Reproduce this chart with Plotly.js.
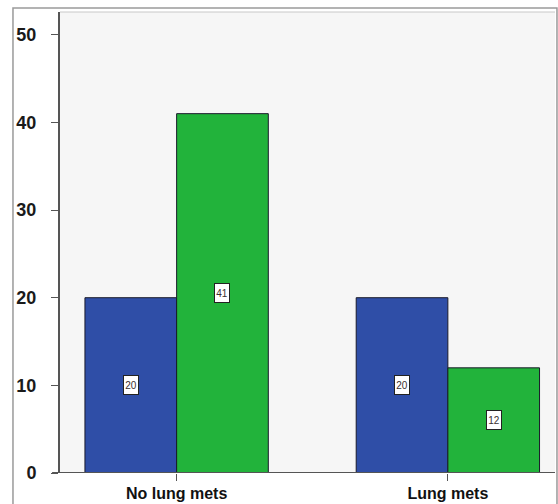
<!DOCTYPE html>
<html>
<head>
<meta charset="utf-8">
<script src="https://cdn.plot.ly/plotly-3.0.1.min.js"></script>
<style>html,body{margin:0;padding:0;background:#fff;}#chart{width:558px;height:504px;}</style>
</head>
<body>
<div id="chart"></div>
<script>
const categories = ["No lung mets", "Lung mets"];
const seriesNames = ["Group A", "Group B"];
const seriesA = [20, 20];
const seriesB = [41, 12];
const yTicks = [0, 10, 20, 30, 40, 50];

const colors = ["#2F4EA7", "#22B33B"];
const bargap = 0.324;
const barW = (1 - bargap) / 2;
const xIdx = categories.map((c, i) => i);

const traces = [seriesA, seriesB].map((vals, s) => ({
  type: "bar",
  name: seriesNames[s],
  x: xIdx,
  y: vals,
  marker: {color: colors[s], line: {color: "#1a1a2a", width: 1}},
  hoverinfo: "none"
}));

const annotations = [];
[seriesA, seriesB].forEach((vals, s) => {
  vals.forEach((v, i) => {
    annotations.push({
      x: i + (s === 0 ? -barW / 2 : barW / 2),
      y: v / 2,
      xref: "x", yref: "y",
      text: String(v),
      showarrow: false,
      font: {family: "Liberation Sans Narrow, Liberation Sans, Arial, sans-serif", size: 10, color: "#3a3030"},
      bgcolor: "#ffffff",
      bordercolor: "#222",
      borderwidth: 1,
      borderpad: 1,
      width: 12,
      height: 16
    });
  });
});

const layout = {
  width: 558, height: 504,
  margin: {l: 60, r: 3, t: 12, b: 31},
  paper_bgcolor: "#ffffff",
  plot_bgcolor: "#f6f6f6",
  showlegend: false,
  barmode: "group",
  bargap: bargap,
  bargroupgap: 0,
  xaxis: {
    range: [-0.43, 1.395],
    tickvals: xIdx,
    ticktext: categories,
    ticks: "outside", ticklen: 7, tickwidth: 1, tickcolor: "#555",
    showline: false,
    showgrid: false, zeroline: false,
    ticklabelstandoff: -1,
    tickfont: {family: "Liberation Sans, Arial, sans-serif", size: 16, color: "#111", weight: "bold"}
  },
  yaxis: {
    range: [0, 52.6],
    tickvals: yTicks,
    ticks: "outside", ticklen: 7, tickwidth: 1, tickcolor: "#555",
    showline: true, linecolor: "#555", linewidth: 2,
    showgrid: false, zeroline: false,
    ticklabelstandoff: 11,
    tickfont: {family: "Liberation Sans, Arial, sans-serif", size: 18, color: "#1a1a1a", weight: "bold"}
  },
  annotations: annotations,
  shapes: [
    {type: "rect", xref: "paper", yref: "paper", x0: -0.095, x1: 1.004, y0: -0.2, y1: 1.0087,
     line: {color: "#9a9a9a", width: 1.5}, fillcolor: "rgba(0,0,0,0)", layer: "below"},
    {type: "line", xref: "paper", yref: "y", x0: -0.016, x1: 1, y0: 0, y1: 0,
     line: {color: "#555", width: 2}},
    {type: "line", xref: "paper", yref: "paper", x0: 0, x1: 1, y0: 1, y1: 1,
     line: {color: "#c8c8c8", width: 1}}
  ]
};

Plotly.newPlot("chart", traces, layout, {displayModeBar: false, staticPlot: true});
</script>
</body>
</html>
